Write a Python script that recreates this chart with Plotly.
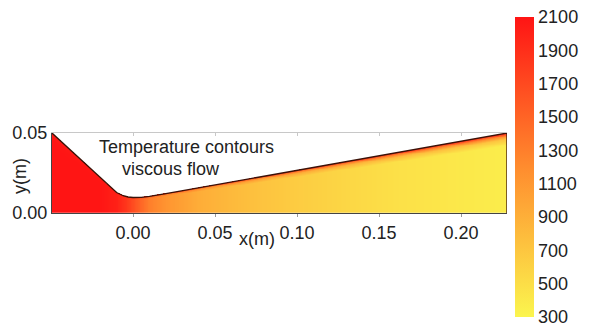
import numpy as np
import plotly.graph_objects as go

# Nozzle wall geometry, metres
wall_x = [-0.0494, -0.030, -0.015, -0.010, -0.006, -0.003, 0.0, 0.005, 0.010, 0.020, 0.228]
wall_y = [0.0500, 0.0318, 0.0172, 0.0128, 0.0108, 0.0100, 0.0097, 0.0098, 0.0104, 0.0121, 0.0500]

# Core (centre-line) temperature at stations along x, K
station_x = [-0.0494, -0.020, -0.010, -0.004, 0.000, 0.005, 0.010, 0.020, 0.040, 0.060, 0.080, 0.100, 0.130, 0.160, 0.200, 0.228]
core_T = [2100, 2090, 2010, 1840, 1680, 1480, 1300, 1130, 920, 810, 720, 650, 560, 480, 410, 370]

# Thermal boundary layer near the upper wall (fraction of wall excess vs. y/h)
bl_eta = [0.0, 0.84, 0.92, 0.96, 0.985, 1.0]
bl_frac = [0.0, 0.0, 0.2, 0.5, 0.8, 1.0]
wall_T = 2050

# Colour bar
cb_ticks = [300, 500, 700, 900, 1100, 1300, 1500, 1700, 1900, 2100]
x_ticks = [0.00, 0.05, 0.10, 0.15, 0.20]
y_ticks = [0.00, 0.05]

# ---- build field on grid ----
xg = np.linspace(wall_x[0], wall_x[-1], 560)
yg = np.linspace(0, 0.05, 170)
X, Y = np.meshgrid(xg, yg)
H = np.interp(xg, wall_x, wall_y)[None, :]
ETA = Y / H
Tc = np.interp(xg, station_x, core_T)[None, :]
F = np.interp(np.clip(ETA, 0, 1), bl_eta, bl_frac)
Z = Tc + (wall_T - Tc) * F
Z = np.where(ETA <= 1.0, Z, np.nan)

font_fam = "Arial, Liberation Sans, sans-serif"
L, R, T, B = 52, 82, 133, 114
W, Hh = 589, 327
pw = W - L - R
ph = Hh - T - B


def px(x):
    return (x - L) / pw


def py(y):
    return (Hh - B - y) / ph


fig = go.Figure()
fig.add_trace(go.Heatmap(
    x=xg, y=yg, z=Z, zmin=299.9, zmax=2100.1,
    colorscale=[[0, '#fbf54e'], [0.5, '#ff8c2e'], [1, '#ff1414']],
    hoverinfo='skip',
    colorbar=dict(
        x=px(515), xanchor='left', xpad=0,
        y=py(17), yanchor='top', ypad=0,
        lenmode='pixels', len=300, thickness=19,
        outlinewidth=0, tickvals=cb_ticks, ticks='',
        ticklabeloverflow='allow',
        tickfont=dict(family=font_fam, size=18, color='#222'),
    ),
))
fig.add_trace(go.Scatter(
    x=wall_x + [wall_x[-1]], y=wall_y + [0.0], mode='lines',
    line=dict(color='#3a1208', width=1.3), hoverinfo='skip', showlegend=False,
))
fig.add_trace(go.Scatter(x=[], y=[], xaxis='x2', showlegend=False))

fig.update_layout(
    width=W, height=Hh,
    margin=dict(l=L, r=R, t=T, b=B),
    paper_bgcolor='white', plot_bgcolor='white',
    showlegend=False,
    font=dict(family=font_fam, size=18, color='#222'),
    xaxis=dict(range=[wall_x[0], wall_x[-1]], tickvals=x_ticks, ticktext=[f"{v:.2f}" for v in x_ticks],
               showgrid=False, zeroline=False, showline=True, linecolor='#444', linewidth=1,
               ticks='outside', ticklen=3, tickcolor='#999',
               tickfont=dict(size=18)),
    xaxis2=dict(overlaying='x', matches='x', side='top', anchor='y', tickvals=x_ticks,
                showticklabels=False, showgrid=False, zeroline=False, showline=True,
                linecolor='#c8c8c8', linewidth=1, ticks='inside', ticklen=3, tickcolor='#c8c8c8'),
    yaxis=dict(range=[0, 0.05], tickvals=y_ticks, ticktext=[f"{v:.2f}" for v in y_ticks],
               showgrid=False, zeroline=False, showline=True, linecolor='#444', linewidth=1,
               ticks='', tickfont=dict(size=18)),
    annotations=[
        dict(text="Temperature contours", xref='paper', yref='paper', x=px(186), y=py(147),
             xanchor='center', yanchor='middle', showarrow=False, font=dict(size=18)),
        dict(text="viscous flow", xref='paper', yref='paper', x=px(171), y=py(169),
             xanchor='center', yanchor='middle', showarrow=False, font=dict(size=18)),
        dict(text="x(m)", xref='paper', yref='paper', x=px(257), y=py(239),
             xanchor='center', yanchor='middle', showarrow=False, font=dict(size=18)),
        dict(text="y(m)", xref='paper', yref='paper', x=px(20), y=py(176),
             xanchor='center', yanchor='middle', showarrow=False, textangle=-90, font=dict(size=18)),
    ],
)

fig.write_html("out.html")
